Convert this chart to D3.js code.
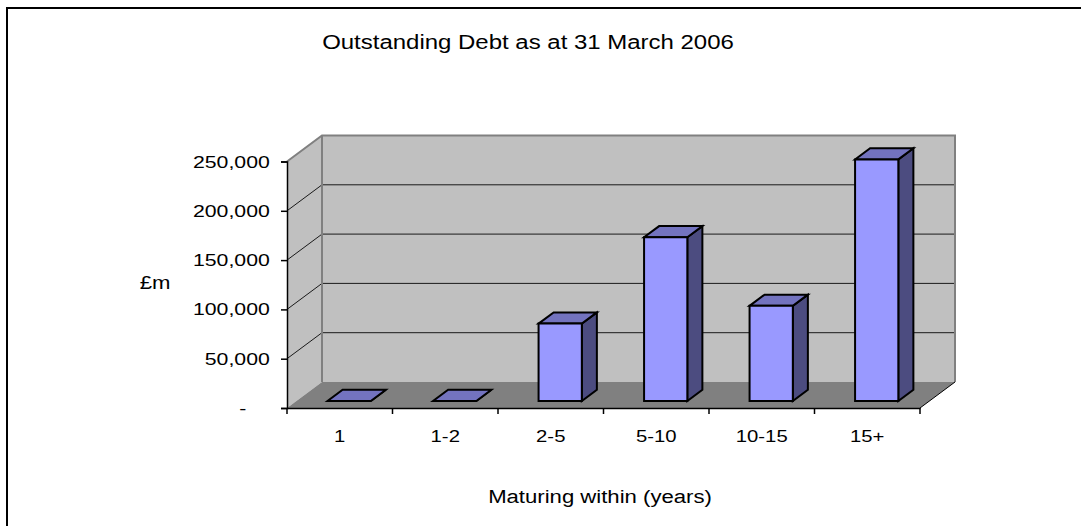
<!DOCTYPE html>
<html>
<head>
<meta charset="utf-8">
<script src="https://cdn.jsdelivr.net/npm/d3@7"></script>
<style>
  html, body { margin: 0; padding: 0; background: #fff; }
  svg { display: block; }
  text { font-family: "Liberation Sans", Arial, sans-serif; fill: #000; }
</style>
</head>
<body>
<svg id="chart" width="1081" height="526"></svg>
<script>
// Outstanding debt by maturity band (£m)
const categories = ["1", "1-2", "2-5", "5-10", "10-15", "15+"];
const debtValues = [0, 0, 78500, 166000, 96500, 245000];
const yTicks = [0, 50000, 100000, 150000, 200000, 250000];
const titleText = "Outstanding Debt as at 31 March 2006";
const xTitleText = "Maturing within (years)";
const yTitleText = "£m";

const svg = d3.select("#chart");
const W = 1081, H = 526;
const stretch = 1.23;          // horizontal glyph stretch of the chart lettering

// front plane of the 3-D box
const x = d3.scaleBand().domain(categories).range([287, 920]).paddingInner(0).paddingOuter(0);
const y = d3.scaleLinear().domain([0, 250000]).range([408, 161.5]);
const depth = { dx: 35, dy: 26 };       // floor depth offset (back = right + up)
const barDepth = [0.27, 0.70];          // bar front / back as fraction of floor depth
const barWidth = x.bandwidth() * 0.41;

const proj = (px, py, f) => [px + f * depth.dx, py - f * depth.dy];
const poly = pts => pts.map(p => p.join(",")).join(" ");

// chart frame
svg.append("path")
  .attr("d", `M7,${H} L7,8 L${W},8`)
  .attr("fill", "none").attr("stroke", "#000").attr("stroke-width", 2);

const x0 = x.range()[0], x1 = x.range()[1];
const yTop = y(250000), yBot = y(0);

// back wall
const bw = [proj(x0, yTop, 1), proj(x1, yTop, 1), proj(x1, yBot, 1), proj(x0, yBot, 1)];
svg.append("polygon").attr("points", poly(bw)).attr("fill", "#c0c0c0");

// left wall
const lw = [[x0, yTop], proj(x0, yTop, 1), proj(x0, yBot, 1), [x0, yBot]];
svg.append("polygon").attr("points", poly(lw)).attr("fill", "#c0c0c0");

// floor
const fl = [[x0, yBot], [x1, yBot], proj(x1, yBot, 1), proj(x0, yBot, 1)];
svg.append("polygon").attr("points", poly(fl)).attr("fill", "#808080");

// gridlines on back and left walls
const grid = svg.append("g").attr("stroke", "#1a1a1a").attr("stroke-width", 1).attr("fill", "none");
yTicks.filter(v => v > 0 && v < 250000).forEach(v => {
  const a = [x0, y(v)], b = proj(x0, y(v), 1), c = proj(x1, y(v), 1);
  grid.append("polyline").attr("points", poly([a, b, c]));
});

// wall edges
const edge = svg.append("g").attr("stroke", "#808080").attr("stroke-width", 2).attr("fill", "none");
edge.append("polyline").attr("points", poly([[x0, yTop], proj(x0, yTop, 1), proj(x1, yTop, 1), proj(x1, yBot, 1)]));
edge.append("line")
  .attr("x1", proj(x0, yTop, 1)[0]).attr("y1", proj(x0, yTop, 1)[1])
  .attr("x2", proj(x0, yBot, 1)[0]).attr("y2", proj(x0, yBot, 1)[1]);

// floor right edge
svg.append("line")
  .attr("x1", x1).attr("y1", yBot)
  .attr("x2", proj(x1, yBot, 1)[0]).attr("y2", proj(x1, yBot, 1)[1])
  .attr("stroke", "#000").attr("stroke-width", 1);

// bars
const bars = svg.append("g").attr("stroke", "#000").attr("stroke-width", 2).attr("stroke-linejoin", "miter");
categories.forEach((c, i) => {
  const v = debtValues[i];
  const cx = x(c) + x.bandwidth() / 2;
  const bl = cx - barWidth / 2, br = cx + barWidth / 2;
  const [f1, f2] = barDepth;
  const FLt = proj(bl, y(v), f1), FRt = proj(br, y(v), f1);
  const FLb = proj(bl, y(0), f1), FRb = proj(br, y(0), f1);
  const BLt = proj(bl, y(v), f2), BRt = proj(br, y(v), f2), BRb = proj(br, y(0), f2);
  bars.append("polygon").attr("points", poly([FRt, BRt, BRb, FRb])).attr("fill", "#4c4c80");
  bars.append("polygon").attr("points", poly([FLt, FRt, BRt, BLt])).attr("fill", "#7373bf");
  bars.append("polygon").attr("points", poly([FLt, FRt, FRb, FLb])).attr("fill", "#9999ff");
});

// value axis
const fmt = d3.format(",");
const yAxis = svg.append("g")
  .attr("transform", `translate(${x0},0)`)
  .call(d3.axisLeft(y).tickValues(yTicks).tickSize(6).tickPadding(0)
    .tickFormat(d => d === 0 ? "-" : fmt(d)));
yAxis.select(".domain").attr("stroke", "#000").attr("stroke-width", 1.5);
yAxis.selectAll(".tick line").attr("stroke", "#000").attr("stroke-width", 1.5);
yAxis.selectAll(".tick text")
  .attr("font-size", 17.3)
  .attr("fill", "#000")
  .attr("x", d => d === 0 ? -33 : -14)
  .attr("transform", `scale(${stretch},1)`);

// category axis
const xAxis = svg.append("g")
  .attr("transform", `translate(0,${yBot})`)
  .call(d3.axisBottom(x).tickSize(0).tickPadding(22));
xAxis.select(".domain").attr("stroke", "#000").attr("stroke-width", 1.5);
xAxis.selectAll(".tick text")
  .attr("font-size", 16.5)
  .attr("fill", "#000")
  .attr("transform", `scale(${stretch},1)`);
// boundary ticks between categories
const bounds = categories.map(c => x(c)).concat([x1]);
xAxis.selectAll("line.bound").data(bounds).join("line")
  .attr("class", "bound")
  .attr("x1", d => d).attr("x2", d => d)
  .attr("y1", 0).attr("y2", 6)
  .attr("stroke", "#000").attr("stroke-width", 1.5);

// titles
function stretchedText(txt, cx, cy, size) {
  svg.append("text")
    .attr("transform", `translate(${cx},${cy}) scale(${stretch},1)`)
    .attr("text-anchor", "middle")
    .attr("dominant-baseline", "central")
    .attr("font-size", size)
    .text(txt);
}
stretchedText(titleText, 528, 42, 19.5);
stretchedText(xTitleText, 600, 497, 18);
stretchedText(yTitleText, 155, 283, 18);
</script>
</body>
</html>
